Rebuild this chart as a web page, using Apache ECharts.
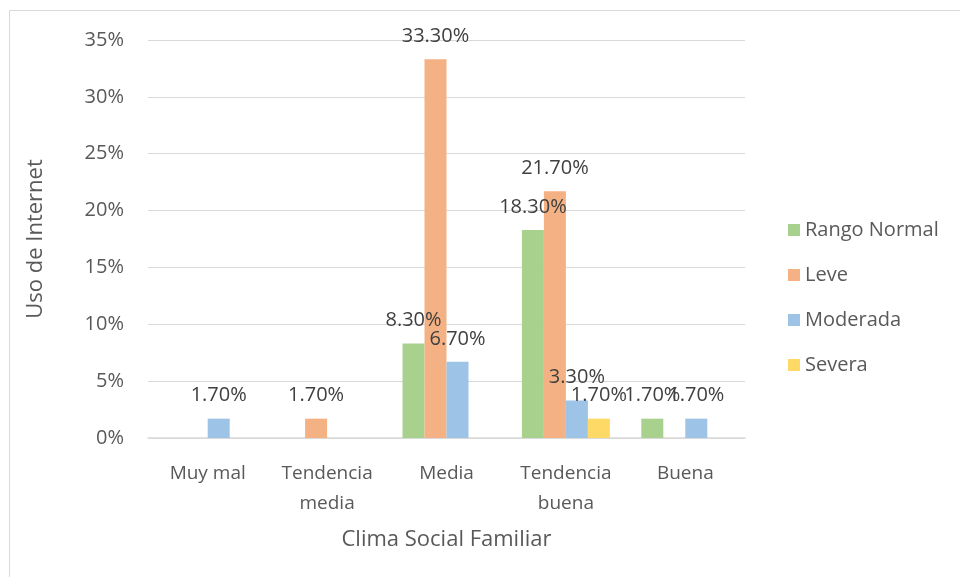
<!DOCTYPE html>
<html>
<head>
<meta charset="utf-8">
<script src="https://cdn.jsdelivr.net/npm/echarts@6/dist/echarts.min.js"></script>
<style>
    html, body { margin: 0; padding: 0; background: #fff; }
    #mains { width: 960px; height: 577px; }
</style>
</head>
<body>
<div id="mains"></div>
<script>
    var categories = ['Muy mal', 'Tendencia\nmedia', 'Media', 'Tendencia\nbuena', 'Buena'];
    var rangoNormal = [null, null, 8.3, 18.3, 1.7];
    var leve = [null, 1.7, 33.3, 21.7, null];
    var moderada = [1.7, null, 6.7, 3.3, 1.7];
    var severa = [null, null, null, 1.7, null];
    var yTicks = [0, 5, 10, 15, 20, 25, 30, 35];

    var font = 'Open Sans';
    var txt = '#595959';

    function bar(name, data, color) {
        return {
            name: name,
            type: 'bar',
            data: data,
            barWidth: 22,
            barGap: '0%',
            itemStyle: { color: color },
            label: {
                show: true,
                position: 'top',
                distance: 13,
                color: '#404040',
                fontFamily: font,
                fontSize: 20,
                formatter: function (p) { return p.value.toFixed(2) + '%'; }
            }
        };
    }

    var myChart = echarts.init(document.getElementById('mains'));
    myChart.setOption({
        animation: false,
        textStyle: { fontFamily: font },
        graphic: [{
            type: 'rect',
            shape: { x: 9.5, y: 10.5, width: 1000, height: 1000 },
            style: { fill: 'none', stroke: '#d9d9d9', lineWidth: 1 },
            silent: true
        }],
        grid: { left: 148, right: 215, top: 40, bottom: 139 },
        legend: {
            orient: 'vertical',
            left: 783,
            top: 215,
            itemWidth: 12,
            itemHeight: 12,
            itemGap: 25,
            icon: 'rect',
            textStyle: { color: txt, fontSize: 20, fontFamily: font },
            data: ['Rango Normal', 'Leve', 'Moderada', 'Severa']
        },
        xAxis: {
            type: 'category',
            data: categories,
            name: 'Clima Social Familiar',
            nameLocation: 'middle',
            nameGap: 91,
            nameTextStyle: { color: txt, fontSize: 22, fontFamily: font },
            axisLine: { lineStyle: { color: '#d9d9d9', width: 1.5 } },
            axisTick: { show: false },
            axisLabel: { interval: 0, color: txt, fontSize: 19, fontFamily: font, margin: 21, lineHeight: 30 }
        },
        yAxis: {
            type: 'value',
            min: yTicks[0],
            max: yTicks[yTicks.length - 1],
            interval: 5,
            name: 'Uso de Internet',
            nameLocation: 'middle',
            nameGap: 101,
            nameTextStyle: { color: txt, fontSize: 22, fontFamily: font },
            axisLine: { show: false },
            axisTick: { show: false },
            splitLine: { lineStyle: { color: '#d9d9d9', width: 1 } },
            axisLabel: {
                color: txt, fontSize: 20, fontFamily: font, margin: 24,
                formatter: function (v) { return v + '%'; }
            }
        },
        series: [
            bar('Rango Normal', rangoNormal, '#a9d18e'),
            bar('Leve', leve, '#f4b183'),
            bar('Moderada', moderada, '#9dc3e6'),
            bar('Severa', severa, '#ffd966')
        ]
    });
</script>
</body>
</html>
